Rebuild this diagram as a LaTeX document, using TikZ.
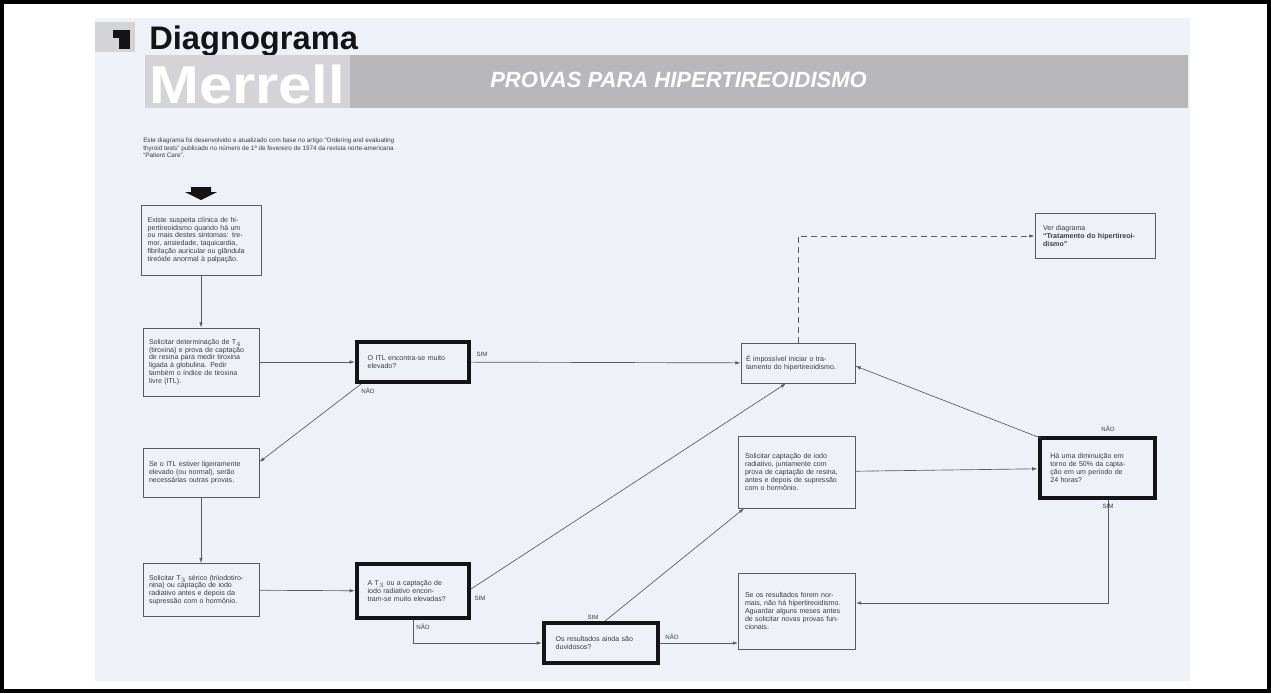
\documentclass[tikz,border=0pt]{standalone}
\usepackage{fontspec}
\usepackage{graphicx}
\setmainfont{Liberation Sans}
\usetikzlibrary{calc,arrows.meta}
\definecolor{pagebg}{HTML}{EEF1F7}
\definecolor{bandlight}{HTML}{D4D4D8}
\definecolor{banddark}{HTML}{B8B8BC}
\definecolor{ink}{HTML}{3C3C42}
\definecolor{linec}{HTML}{5A5A60}
\definecolor{heavy}{HTML}{141416}
\begin{document}
\begin{tikzpicture}[x=0.75pt,y=-0.75pt,
  box/.style={draw=linec,line width=0.6pt,inner sep=2pt,
    font=\fontsize{5.3}{5.9}\selectfont,text=ink,align=left},
  decision/.style={box,draw=heavy,line width=3pt},
  arr/.style={draw=linec,line width=0.5pt,-{Latex[length=4pt,width=2.6pt]}},
  lbl/.style={font=\fontsize{4.6}{5}\selectfont,text=ink,inner sep=0pt}]

% page and frame
\useasboundingbox (0,0) rectangle (1271,693);
\fill[white] (0,0) rectangle (1271,693);
\fill[pagebg] (95,18) rectangle (1190,681);
\draw[black,line width=3pt] (2,2) rectangle (1269,691);

% title
\fill[bandlight] (95,22) rectangle (135,52);
\fill[heavy] (119,30) rectangle (130,49);
\fill[heavy] (113,30) rectangle (119,38);
\node[anchor=base west,inner sep=0pt,font=\fontsize{24.5}{24.5}\selectfont\bfseries,text=heavy]
  (title) at (149,49) {Diagnograma};

% grey band with white lettering
\fill[banddark] (145,55) rectangle (1188,108);
\fill[bandlight] (145,55) rectangle (350,108);
\node[anchor=base west,inner sep=0pt,font=\fontsize{40}{40}\selectfont\bfseries,text=white]
  (brand) at (149,103) {\scalebox{1.12}[1]{Merrell}};
\node[anchor=base west,inner sep=0pt,font=\fontsize{16.5}{16.5}\selectfont\bfseries\itshape,text=white]
  (subject) at (490,87) {PROVAS PARA HIPERTIREOIDISMO};

% introductory note
\node[anchor=north west,inner sep=0pt,align=left,text=ink,
  font=\fontsize{4.75}{5.6}\selectfont] (intro) at (143,138)
  {Este diagrama foi desenvolvido e atualizado com base no artigo ``Ordering and evaluating\\
   thyroid tests'' publicado no número de 1º de fevereiro de 1974 da revista norte-americana\\
   ``Patient Care''.};

% start marker
\fill[heavy] (191,187) -- (211,187) -- (211,192) -- (217,192) -- (201,200)
  -- (185,192) -- (191,192) -- cycle;

% boxes
\node[box,minimum width=90pt,minimum height=52.5pt,text width=80pt] (b1) at (201,240)
  {Existe suspeita clínica de hi-\\pertireoidismo quando há um\\ou mais destes sintomas: tre-\\mor, ansiedade, taquicardia,\\fibrilação auricular ou glândula\\tireóide anormal à palpação.};
\node[box,minimum width=87pt,minimum height=51pt,text width=78pt] (b2) at (201,362)
  {Solicitar determinação de T$_4$\\(tiroxina) e prova de captação\\de resina para medir tiroxina\\ligada à globulina. Pedir\\também o índice de tiroxina\\livre (ITL).};
\node[decision,minimum width=84pt,minimum height=30pt,text width=68pt] (d1) at (413,362)
  {O ITL encontra-se muito\\elevado?};
\node[box,minimum width=87pt,minimum height=36.75pt,text width=78pt] (b4) at (201,473)
  {Se o ITL estiver ligeiramente\\elevado (ou normal), serão\\necessárias outras provas.};
\node[box,minimum width=87pt,minimum height=39.75pt,text width=78pt] (b5) at (201,590)
  {Solicitar T$_3$ sérico (triiodotiro-\\nina) ou captação de iodo\\radiativo antes e depois da\\supressão com o hormônio.};
\node[decision,minimum width=84pt,minimum height=40.5pt,text width=68pt] (d2) at (413,591)
  {A T$_3$ ou a captação de\\iodo radiativo encon-\\tram-se muito elevadas?};
\node[decision,minimum width=85.5pt,minimum height=30pt,text width=68pt] (d3) at (601,643)
  {Os resultados ainda são\\duvidosos?};
\node[box,minimum width=85.5pt,minimum height=30pt,text width=78pt] (b8) at (798,363)
  {É impossível iniciar o tra-\\tamento do hipertireoidismo.};
\node[box,minimum width=90pt,minimum height=33.75pt,text width=78pt] (b9) at (1095,236)
  {Ver diagrama\\\textbf{``Tratamento do hipertireoi-}\\\textbf{dismo''}};
\node[box,minimum width=87.75pt,minimum height=54pt,text width=78pt] (b10) at (797,472)
  {Solicitar captação de iodo\\radiativo, juntamente com\\prova de captação de resina,\\antes e depois de supressão\\com o hormônio.};
\node[decision,minimum width=86.25pt,minimum height=45pt,text width=70pt] (d4) at (1097,468)
  {Há uma diminuição em\\torno de 50\% da capta-\\ção em um período de\\24 horas?};
\node[box,minimum width=87.75pt,minimum height=57pt,text width=78pt] (b12) at (797,611)
  {Se os resultados forem nor-\\mais, não há hipertireoidismo.\\Aguardar alguns meses antes\\de solicitar novas provas fun-\\cionais.};

% connectors
\draw[arr] (b1) -- (b2);
\draw[arr] (b2) -- (d1);
\draw[arr] (d1) -- (b8);
\draw[arr] ($(d1.south west)+(6,0)$) -- ($(b4.east)+(0,-11)$);
\draw[arr] (b4) -- (b5);
\draw[arr] (b5) -- (d2);
\draw[arr] ($(d2.east)+(0,-2)$) -- ($(b8.south)+(-12,0)$);
\draw[arr] (d2.south) |- (d3.west);
\draw[arr] ($(d3.north)+(4,0)$) -- ($(b10.south west)+(6,0)$);
\draw[arr] (d3.east) -- (b12.west |- d3.east);
\draw[arr] (b10) -- (d4);
\draw[arr] ($(d4.north west)+(3,2)$) -- ($(b8.east)+(0,3)$);
\draw[arr] ($(d4.south)+(11,0)$) |- ($(b12.east)+(0,-8)$);
\draw[arr,dash pattern=on 4.5pt off 3pt] (b8.north) |- (b9.west);

% branch labels
\node[lbl] (s1) at (482,354) {SIM};
\node[lbl] (n1) at (368,391) {NÃO};
\node[lbl] (s2) at (480,598) {SIM};
\node[lbl] (n2) at (423,627) {NÃO};
\node[lbl] (s3) at (593,617) {SIM};
\node[lbl] (n3) at (672,637) {NÃO};
\node[lbl] (n4) at (1108,429) {NÃO};
\node[lbl] (s4) at (1108,506) {SIM};
\end{tikzpicture}
\end{document}
